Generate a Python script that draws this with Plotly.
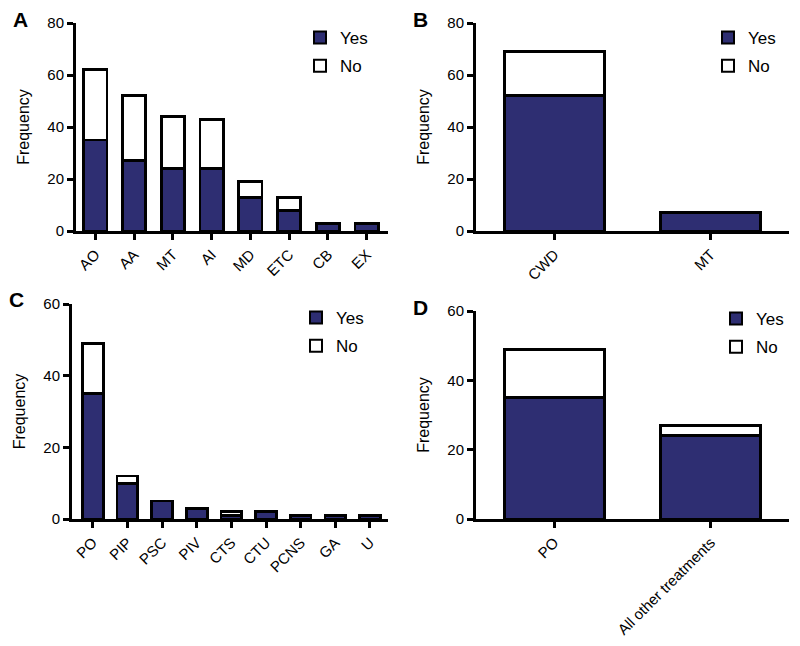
import plotly.graph_objects as go

# ---- data ----
cat_a = ["AO", "AA", "MT", "AI", "MD", "ETC", "CB", "EX"]
yes_a = [35, 27, 24, 24, 13, 8, 3, 3]
total_a = [62, 52, 44, 43, 19, 13, 3, 3]

cat_b = ["CWD", "MT"]
yes_b = [52, 7]
total_b = [69, 7]

cat_c = ["PO", "PIP", "PSC", "PIV", "CTS", "CTU", "PCNS", "GA", "U"]
yes_c = [35, 10, 5, 3, 1, 2, 1, 1, 1]
total_c = [49, 12, 5, 3, 2, 2, 1, 1, 1]

cat_d = ["PO", "All other treatments"]
yes_d = [35, 24]
total_d = [49, 27]

series_names = ["Yes", "No"]
panel_letters = ["A", "B", "C", "D"]

NAVY = "#2E2E72"
FONT = "Liberation Sans, Arial, Helvetica, sans-serif"
OFF = 8  # page body margin
W, H = 792, 638


def fx(px):
    return (px - OFF) / W


def fy(py):
    return 1 - (py - OFF) / H


panels = [
    dict(cats=cat_a, yes=yes_a, tot=total_a, yr=[0, 80], dt=20, px=(76, 388), py=(23, 231),
         xr=[-0.5, 7.55], bw=0.6, leg=(300, 20)),
    dict(cats=cat_b, yes=yes_b, tot=total_b, yr=[0, 80], dt=20, px=(476, 789), py=(23, 231),
         xr=[-0.5, 1.5], bw=0.64, leg=(708, 20)),
    dict(cats=cat_c, yes=yes_c, tot=total_c, yr=[0, 60], dt=20, px=(72, 388), py=(304, 519),
         xr=[-0.6, 8.52], bw=0.6, leg=(296, 300)),
    dict(cats=cat_d, yes=yes_d, tot=total_d, yr=[0, 60], dt=20, px=(476, 789), py=(311, 519),
         xr=[-0.5, 1.5], bw=0.64, leg=(716, 301)),
]

fig = go.Figure()
layout = dict(
    width=W, height=H, margin=dict(l=0, r=0, t=0, b=0, autoexpand=False),
    paper_bgcolor="white", plot_bgcolor="white",
    font=dict(family=FONT, size=15, color="black"),
    barmode="stack", bargap=0.4,
    showlegend=True,
)
annotations = []

for i, p in enumerate(panels):
    sfx = "" if i == 0 else str(i + 1)
    xa, ya = "x" + sfx, "y" + sfx
    lg = "legend" + sfx
    no_vals = [t - y for t, y in zip(p["tot"], p["yes"])]
    for name, vals, color in [(series_names[0], p["yes"], NAVY), (series_names[1], no_vals, "white")]:
        fig.add_trace(go.Bar(
            x=p["cats"], y=vals, name=name, width=p["bw"],
            marker=dict(color=color, line=dict(color="black", width=2.8)),
            xaxis=xa, yaxis=ya, legend=lg, showlegend=True,
            legendgroup="%s_%s" % (lg, name),
        ))
    layout["xaxis" + sfx] = dict(
        domain=[fx(p["px"][0]), fx(p["px"][1])], anchor=ya, range=p["xr"], type="category",
        showline=True, linecolor="black", linewidth=3,
        ticks="outside", ticklen=6, tickwidth=3, tickcolor="black",
        tickangle=-45, showgrid=False, zeroline=False, automargin=False,
        tickfont=dict(family=FONT, size=15, color="black"),
    )
    layout["yaxis" + sfx] = dict(
        domain=[fy(p["py"][1]), fy(p["py"][0])], anchor=xa, range=p["yr"], dtick=p["dt"],
        showline=True, linecolor="black", linewidth=3,
        ticks="outside", ticklen=6, tickwidth=3, tickcolor="black",
        showgrid=False, zeroline=False, automargin=False,
        title=dict(text="Frequency", font=dict(family=FONT, size=16, color="black"), standoff=14),
        tickfont=dict(family=FONT, size=15, color="black"),
    )
    layout[lg] = dict(
        x=fx(p["leg"][0]), xanchor="left",
        y=fy(p["leg"][1]), yanchor="top",
        bgcolor="rgba(0,0,0,0)", traceorder="grouped", tracegroupgap=3,
        font=dict(family=FONT, size=17, color="black"),
        itemsizing="constant",
    )
    annotations.append(dict(
        text="<b>%s</b>" % panel_letters[i], x=fx(p["px"][0] - 56), y=fy(p["py"][0] - 4),
        xref="paper", yref="paper", xanchor="center", yanchor="middle", showarrow=False,
        font=dict(family=FONT, size=21, color="black"),
    ))

layout["annotations"] = annotations
fig.update_layout(**layout)
fig.write_html("out.html")
